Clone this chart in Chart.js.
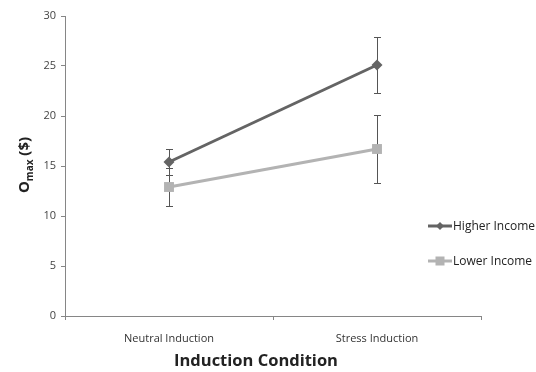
<!DOCTYPE html>
<html>
<head>
<meta charset="utf-8">
<script src="https://cdn.jsdelivr.net/npm/chart.js@4.4.0/dist/chart.umd.min.js"></script>
<style>
  html, body { margin: 0; padding: 0; background: #fff; }
  #wrap { width: 536px; height: 372px; }
</style>
</head>
<body>
<div id="wrap"><canvas id="chart" width="536" height="372"></canvas></div>
<script>
// chart data
const categories = ['Neutral Induction', 'Stress Induction'];
const higherIncome = [15.4, 25.1];
const higherErr = [1.3, 2.8];
const lowerIncome = [12.9, 16.7];
const lowerErr = [1.9, 3.4];
const yTicks = [0, 5, 10, 15, 20, 25, 30];

const FONT = "'Open Sans', sans-serif";

// error bars, drawn under the markers
const errorBars = {
    id: 'errorBars',
    beforeDatasetsDraw(chart) {
        const ctx = chart.ctx;
        const x = chart.scales.x, y = chart.scales.y;
        const sets = [[higherIncome, higherErr], [lowerIncome, lowerErr]];
        ctx.save();
        ctx.strokeStyle = '#555';
        ctx.lineWidth = 1;
        sets.forEach(([vals, errs]) => {
            vals.forEach((v, i) => {
                const px = Math.round(x.getPixelForValue(i)) + 0.5;
                const top = y.getPixelForValue(v + errs[i]);
                const bot = y.getPixelForValue(v - errs[i]);
                ctx.beginPath();
                ctx.moveTo(px, top); ctx.lineTo(px, bot);
                ctx.moveTo(px - 3.5, Math.round(top) + 0.5); ctx.lineTo(px + 3.5, Math.round(top) + 0.5);
                ctx.moveTo(px - 3.5, Math.round(bot) + 0.5); ctx.lineTo(px + 3.5, Math.round(bot) + 0.5);
                ctx.stroke();
            });
        });
        ctx.restore();
    }
};

// axis titles and legend
const labelsPlugin = {
    id: 'labels',
    afterDraw(chart) {
        const ctx = chart.ctx;
        const area = chart.chartArea;
        ctx.save();
        ctx.fillStyle = '#222';
        ctx.textBaseline = 'alphabetic';

        // x title
        ctx.font = 'bold 16.5px ' + FONT;
        ctx.textAlign = 'center';
        ctx.fillText('Induction Condition', (area.left + area.right) / 2 - 17, 366);

        // y title with subscript
        ctx.translate(29, 165);
        ctx.rotate(-Math.PI / 2);
        const big = 'bold 15px ' + FONT, small = 'bold 10px ' + FONT;
        ctx.font = big; const wO = ctx.measureText('O').width;
        ctx.font = small; const wM = ctx.measureText('max').width;
        ctx.font = big; const wR = ctx.measureText(' ($)').width;
        let sx = -(wO + wM + wR) / 2;
        ctx.textAlign = 'left';
        ctx.font = big; ctx.fillText('O', sx, 0); sx += wO;
        ctx.font = small; ctx.fillText('max', sx, 4); sx += wM;
        ctx.font = big; ctx.fillText(' ($)', sx, 0);
        ctx.restore();

        // legend
        const items = [
            { text: 'Higher Income', color: '#646464', style: 'diamond', y: 226 },
            { text: 'Lower Income', color: '#b3b3b3', style: 'square', y: 261 }
        ];
        ctx.save();
        items.forEach(it => {
            ctx.strokeStyle = it.color;
            ctx.lineWidth = 3;
            ctx.beginPath();
            ctx.moveTo(428, it.y); ctx.lineTo(452, it.y);
            ctx.stroke();
            ctx.fillStyle = it.color;
            if (it.style === 'square') {
                ctx.fillRect(440 - 4.5, it.y - 4.5, 9, 9);
            } else {
                ctx.beginPath();
                ctx.moveTo(440, it.y - 4); ctx.lineTo(444, it.y); ctx.lineTo(440, it.y + 4); ctx.lineTo(436, it.y);
                ctx.closePath(); ctx.fill();
            }
            ctx.fillStyle = '#222';
            ctx.font = '12px ' + FONT;
            ctx.textAlign = 'left';
            ctx.textBaseline = 'middle';
            ctx.fillText(it.text, 453, it.y + 1);
        });
        ctx.restore();
    }
};

new Chart(document.getElementById('chart'), {
    type: 'line',
    data: {
        labels: categories,
        datasets: [
            {
                label: 'Higher Income',
                data: higherIncome,
                borderColor: '#646464',
                backgroundColor: '#646464',
                borderWidth: 3,
                pointStyle: 'rectRot',
                pointRadius: 5.5,
                pointBorderWidth: 0,
                tension: 0
            },
            {
                label: 'Lower Income',
                data: lowerIncome,
                borderColor: '#b3b3b3',
                backgroundColor: '#b3b3b3',
                borderWidth: 3,
                pointStyle: 'rect',
                pointRadius: 7,
                pointBorderWidth: 0,
                tension: 0
            }
        ]
    },
    options: {
        responsive: false,
        animation: false,
        layout: { padding: { left: 0, right: 55, top: 16, bottom: 0 } },
        plugins: {
            legend: { display: false },
            tooltip: { enabled: false }
        },
        scales: {
            x: {
                offset: true,
                afterFit: s => { s.height = 56; },
                grid: {
                    offset: true,
                    drawOnChartArea: false,
                    drawTicks: true,
                    tickLength: 4,
                    color: '#868686'
                },
                border: { color: '#868686', width: 1 },
                ticks: {
                    color: '#333',
                    font: { family: FONT, size: 11 },
                    padding: 12
                }
            },
            y: {
                min: 0,
                max: 30,
                afterFit: s => { s.width = 65; },
                afterBuildTicks: s => { s.ticks = yTicks.map(v => ({ value: v })); },
                grid: {
                    drawOnChartArea: false,
                    drawTicks: true,
                    tickLength: 4,
                    color: '#868686'
                },
                border: { color: '#868686', width: 1 },
                ticks: {
                    color: '#444',
                    font: { family: FONT, size: 11 },
                    padding: 5
                }
            }
        }
    },
    plugins: [errorBars, labelsPlugin]
});
</script>
</body>
</html>
